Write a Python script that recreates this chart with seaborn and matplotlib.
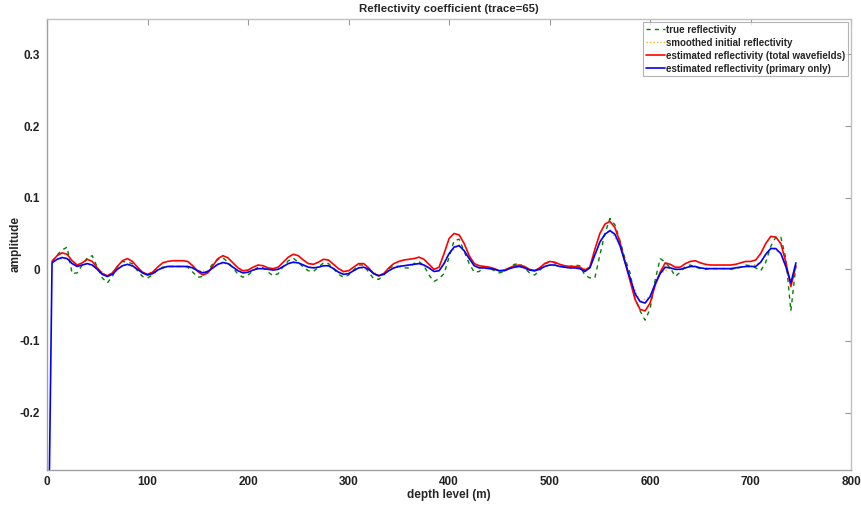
import numpy as np
import pandas as pd
import seaborn as sns
import matplotlib
import matplotlib.pyplot as plt
matplotlib.use("Agg")

# depth levels (m), 5 m sampling
depth = np.arange(0, 750, 5)

true_refl = [
    np.nan,
    0.011, 0.020, 0.027, 0.031, -0.006, -0.005, 0.006, 0.016, 0.019, 0.003,
    -0.012, -0.019, -0.010, 0.004, 0.011, 0.010, 0.008, -0.002, -0.010, -0.012,
    -0.008, -0.001, 0.003, 0.004, 0.004, 0.004, 0.004, 0.003, -0.004, -0.011,
    -0.010, -0.002, 0.008, 0.014, 0.016, 0.010, 0.002, -0.007, -0.011, -0.008,
    -0.002, 0.003, 0.002, -0.004, -0.009, -0.006, 0.004, 0.012, 0.0155, 0.010,
    0.003, -0.002, -0.003, 0.003, 0.009, 0.008, 0.001, -0.007, -0.011, -0.008,
    -0.001, 0.006, 0.006, -0.004, -0.013, -0.014, -0.008, 0.001, 0.005, 0.004,
    0.002, 0.002, 0.008, 0.011, 0.005, -0.008, -0.017, -0.013, -0.006, 0.017,
    0.040, 0.042, 0.025, 0.008, -0.004, -0.003, 0.004, 0.002, -0.002, -0.005,
    -0.003, 0.002, 0.007, 0.008, 0.002, -0.005, -0.008, -0.002, 0.007, 0.011,
    0.009, 0.005, 0.003, 0.004, 0.006, 0.005, -0.008, -0.012, -0.012, 0.020,
    0.050, 0.071, 0.062, 0.040, 0.015, -0.005, -0.040, -0.058, -0.071, -0.055,
    -0.015, 0.015, 0.010, 0.002, -0.010, -0.004, 0.004, 0.006, 0.003, 0.001,
    0.000, 0.001, 0.001, 0.001, 0.001, 0.000, 0.001, 0.003, 0.006, 0.005,
    0.002, -0.002, 0.010, 0.032, 0.045, 0.045, 0.015, -0.058, 0.005,
]

total_refl = [
    np.nan,
    0.011, 0.019, 0.023, 0.021, 0.012, 0.006, 0.009, 0.014, 0.011, 0.002,
    -0.006, -0.009, -0.005, 0.004, 0.012, 0.015, 0.011, 0.003, -0.004, -0.007,
    -0.004, 0.003, 0.009, 0.011, 0.012, 0.012, 0.012, 0.011, 0.005, -0.003,
    -0.008, -0.005, 0.005, 0.015, 0.019, 0.016, 0.009, 0.002, -0.002, -0.001,
    0.003, 0.006, 0.005, 0.002, 0.001, 0.003, 0.010, 0.017, 0.021, 0.019,
    0.013, 0.008, 0.007, 0.010, 0.014, 0.013, 0.007, 0.001, -0.003, -0.002,
    0.003, 0.008, 0.008, 0.002, -0.006, -0.009, -0.006, 0.002, 0.008, 0.011,
    0.013, 0.014, 0.015, 0.017, 0.014, 0.007, 0.000, 0.003, 0.022, 0.043,
    0.050, 0.048, 0.036, 0.019, 0.008, 0.005, 0.004, 0.003, 0.001, -0.002,
    -0.001, 0.002, 0.005, 0.006, 0.004, 0.000, -0.002, 0.002, 0.008, 0.011,
    0.010, 0.007, 0.005, 0.004, 0.004, 0.003, -0.001, 0.003, 0.028, 0.050,
    0.063, 0.067, 0.058, 0.038, 0.010, -0.016, -0.042, -0.056, -0.058, -0.047,
    -0.022, -0.004, 0.009, 0.007, 0.003, 0.003, 0.008, 0.011, 0.012, 0.009,
    0.007, 0.006, 0.006, 0.006, 0.006, 0.006, 0.007, 0.009, 0.011, 0.011,
    0.013, 0.022, 0.036, 0.046, 0.045, 0.036, 0.010, -0.024, 0.005,
]

primary_refl = [
    -0.55,
    0.009, 0.014, 0.0165, 0.015, 0.008, 0.004, 0.006, 0.008, 0.006, 0.000,
    -0.007, -0.010, -0.007, 0.000, 0.005, 0.007, 0.005, 0.000, -0.005, -0.008,
    -0.006, -0.001, 0.002, 0.004, 0.004, 0.004, 0.004, 0.004, 0.002, -0.002,
    -0.005, -0.003, 0.002, 0.007, 0.0095, 0.008, 0.003, -0.002, -0.005, -0.004,
    -0.001, 0.001, 0.001, 0.000, -0.001, 0.000, 0.004, 0.008, 0.010, 0.009,
    0.006, 0.003, 0.002, 0.003, 0.005, 0.005, 0.001, -0.004, -0.007, -0.006,
    -0.002, 0.002, 0.003, 0.000, -0.006, -0.009, -0.007, -0.002, 0.002, 0.004,
    0.005, 0.006, 0.007, 0.008, 0.006, 0.002, -0.003, -0.002, 0.008, 0.022,
    0.031, 0.033, 0.026, 0.015, 0.005, 0.002, 0.002, 0.001, 0.000, -0.002,
    -0.002, 0.001, 0.003, 0.004, 0.002, -0.001, -0.002, 0.000, 0.004, 0.006,
    0.006, 0.004, 0.003, 0.002, 0.002, 0.001, -0.003, 0.002, 0.020, 0.038,
    0.049, 0.054, 0.049, 0.033, 0.010, -0.012, -0.034, -0.045, -0.047, -0.038,
    -0.020, -0.006, 0.003, 0.002, 0.000, 0.000, 0.002, 0.004, 0.004, 0.002,
    0.001, 0.001, 0.001, 0.001, 0.001, 0.001, 0.002, 0.003, 0.004, 0.004,
    0.004, 0.010, 0.021, 0.029, 0.029, 0.022, 0.004, -0.019, 0.009,
]

# smoothed initial model, 10 m sampling
smooth_depth = np.arange(10, 750, 10)
smooth_refl = [
    0.014, 0.015, 0.005, 0.008, 0.001, -0.009, 0.001, 0.007, 0.000, -0.007,
    -0.001, 0.004, 0.004, 0.004, -0.002, -0.003, 0.007, 0.008, -0.002, -0.004,
    0.001, 0.000, 0.000, 0.008, 0.009, 0.003, 0.003, 0.005, -0.004, -0.006,
    0.002, 0.000, -0.008, -0.002, 0.004, 0.006, 0.008, 0.002, -0.002, 0.023,
    0.034, 0.016, 0.002, 0.001, -0.002, 0.001, 0.004, -0.001, 0.000, 0.006,
    0.004, 0.002, 0.001, 0.002, 0.039, 0.055, 0.034, -0.012, -0.045, -0.038,
    -0.006, 0.002, 0.000, 0.004, 0.002, 0.001, 0.001, 0.001, 0.003, 0.004,
    0.010, 0.030, 0.023, -0.019,
]

sns.set_style("white")
plt.rcParams["font.family"] = ["Liberation Sans", "DejaVu Sans"]
plt.rcParams["font.weight"] = "bold"

fig = plt.figure(figsize=(8.61, 5.07), dpi=100)
ax = fig.add_axes([0.0546, 0.073, 0.934, 0.8905])

sns.lineplot(x=depth, y=true_refl, ax=ax, color="#008000", lw=1.0,
             estimator=None, label="true reflectivity")
ax.lines[-1].set_linestyle((0, (3, 3)))
sns.lineplot(x=smooth_depth, y=smooth_refl, ax=ax, color="#EDB120", lw=1.0,
             estimator=None, label="smoothed initial reflectivity")
ax.lines[-1].set_linestyle((0, (1, 1.5)))
sns.lineplot(x=depth, y=total_refl, ax=ax, color="#ff0000", lw=1.2,
             estimator=None, label="estimated reflectivity (total wavefields)")
sns.lineplot(x=depth, y=primary_refl, ax=ax, color="#0000ff", lw=1.2,
             estimator=None, label="estimated reflectivity (primary only)")

ax.set_xlim(0, 800)
ax.set_ylim(-0.28, 0.35)
ax.set_xticks(np.arange(0, 801, 100))
ax.set_yticks([-0.2, -0.1, 0, 0.1, 0.2, 0.3])
ax.set_yticklabels(["-0.2", "-0.1", "0", "0.1", "0.2", "0.3"])
ax.tick_params(direction="in", length=4.5, width=0.8, color="#999999",
               labelsize=8.5, labelcolor="#222222", top=True, right=True)
ax.tick_params(axis="x", pad=4)
ax.tick_params(axis="y", pad=5)
for lab in ax.get_xticklabels() + ax.get_yticklabels():
    lab.set_fontweight("bold")
for side, sp in ax.spines.items():
    sp.set_color("#a0a0a0" if side in ("left", "bottom") else "#c0c0c0")
    sp.set_linewidth(1.0)

ax.set_xlabel("depth level (m)", fontsize=8.5, fontweight="bold", labelpad=1)
ax.set_ylabel("amplitude", fontsize=8.5, fontweight="bold")
ax.yaxis.set_label_coords(-0.031, 0.5)
ax.set_title("Reflectivity coefficient (trace=65)", fontsize=8.2,
             fontweight="bold", pad=5)

leg = ax.legend(loc="upper right", fontsize=7, frameon=True, fancybox=False,
                edgecolor="#a0a0a0", handlelength=2.0, handletextpad=0.05,
                borderpad=0.3, labelspacing=0.3, borderaxespad=0.35)
leg.get_frame().set_linewidth(0.8)
for t in leg.get_texts():
    t.set_fontweight("bold")

fig.savefig("out.png", dpi=100)
